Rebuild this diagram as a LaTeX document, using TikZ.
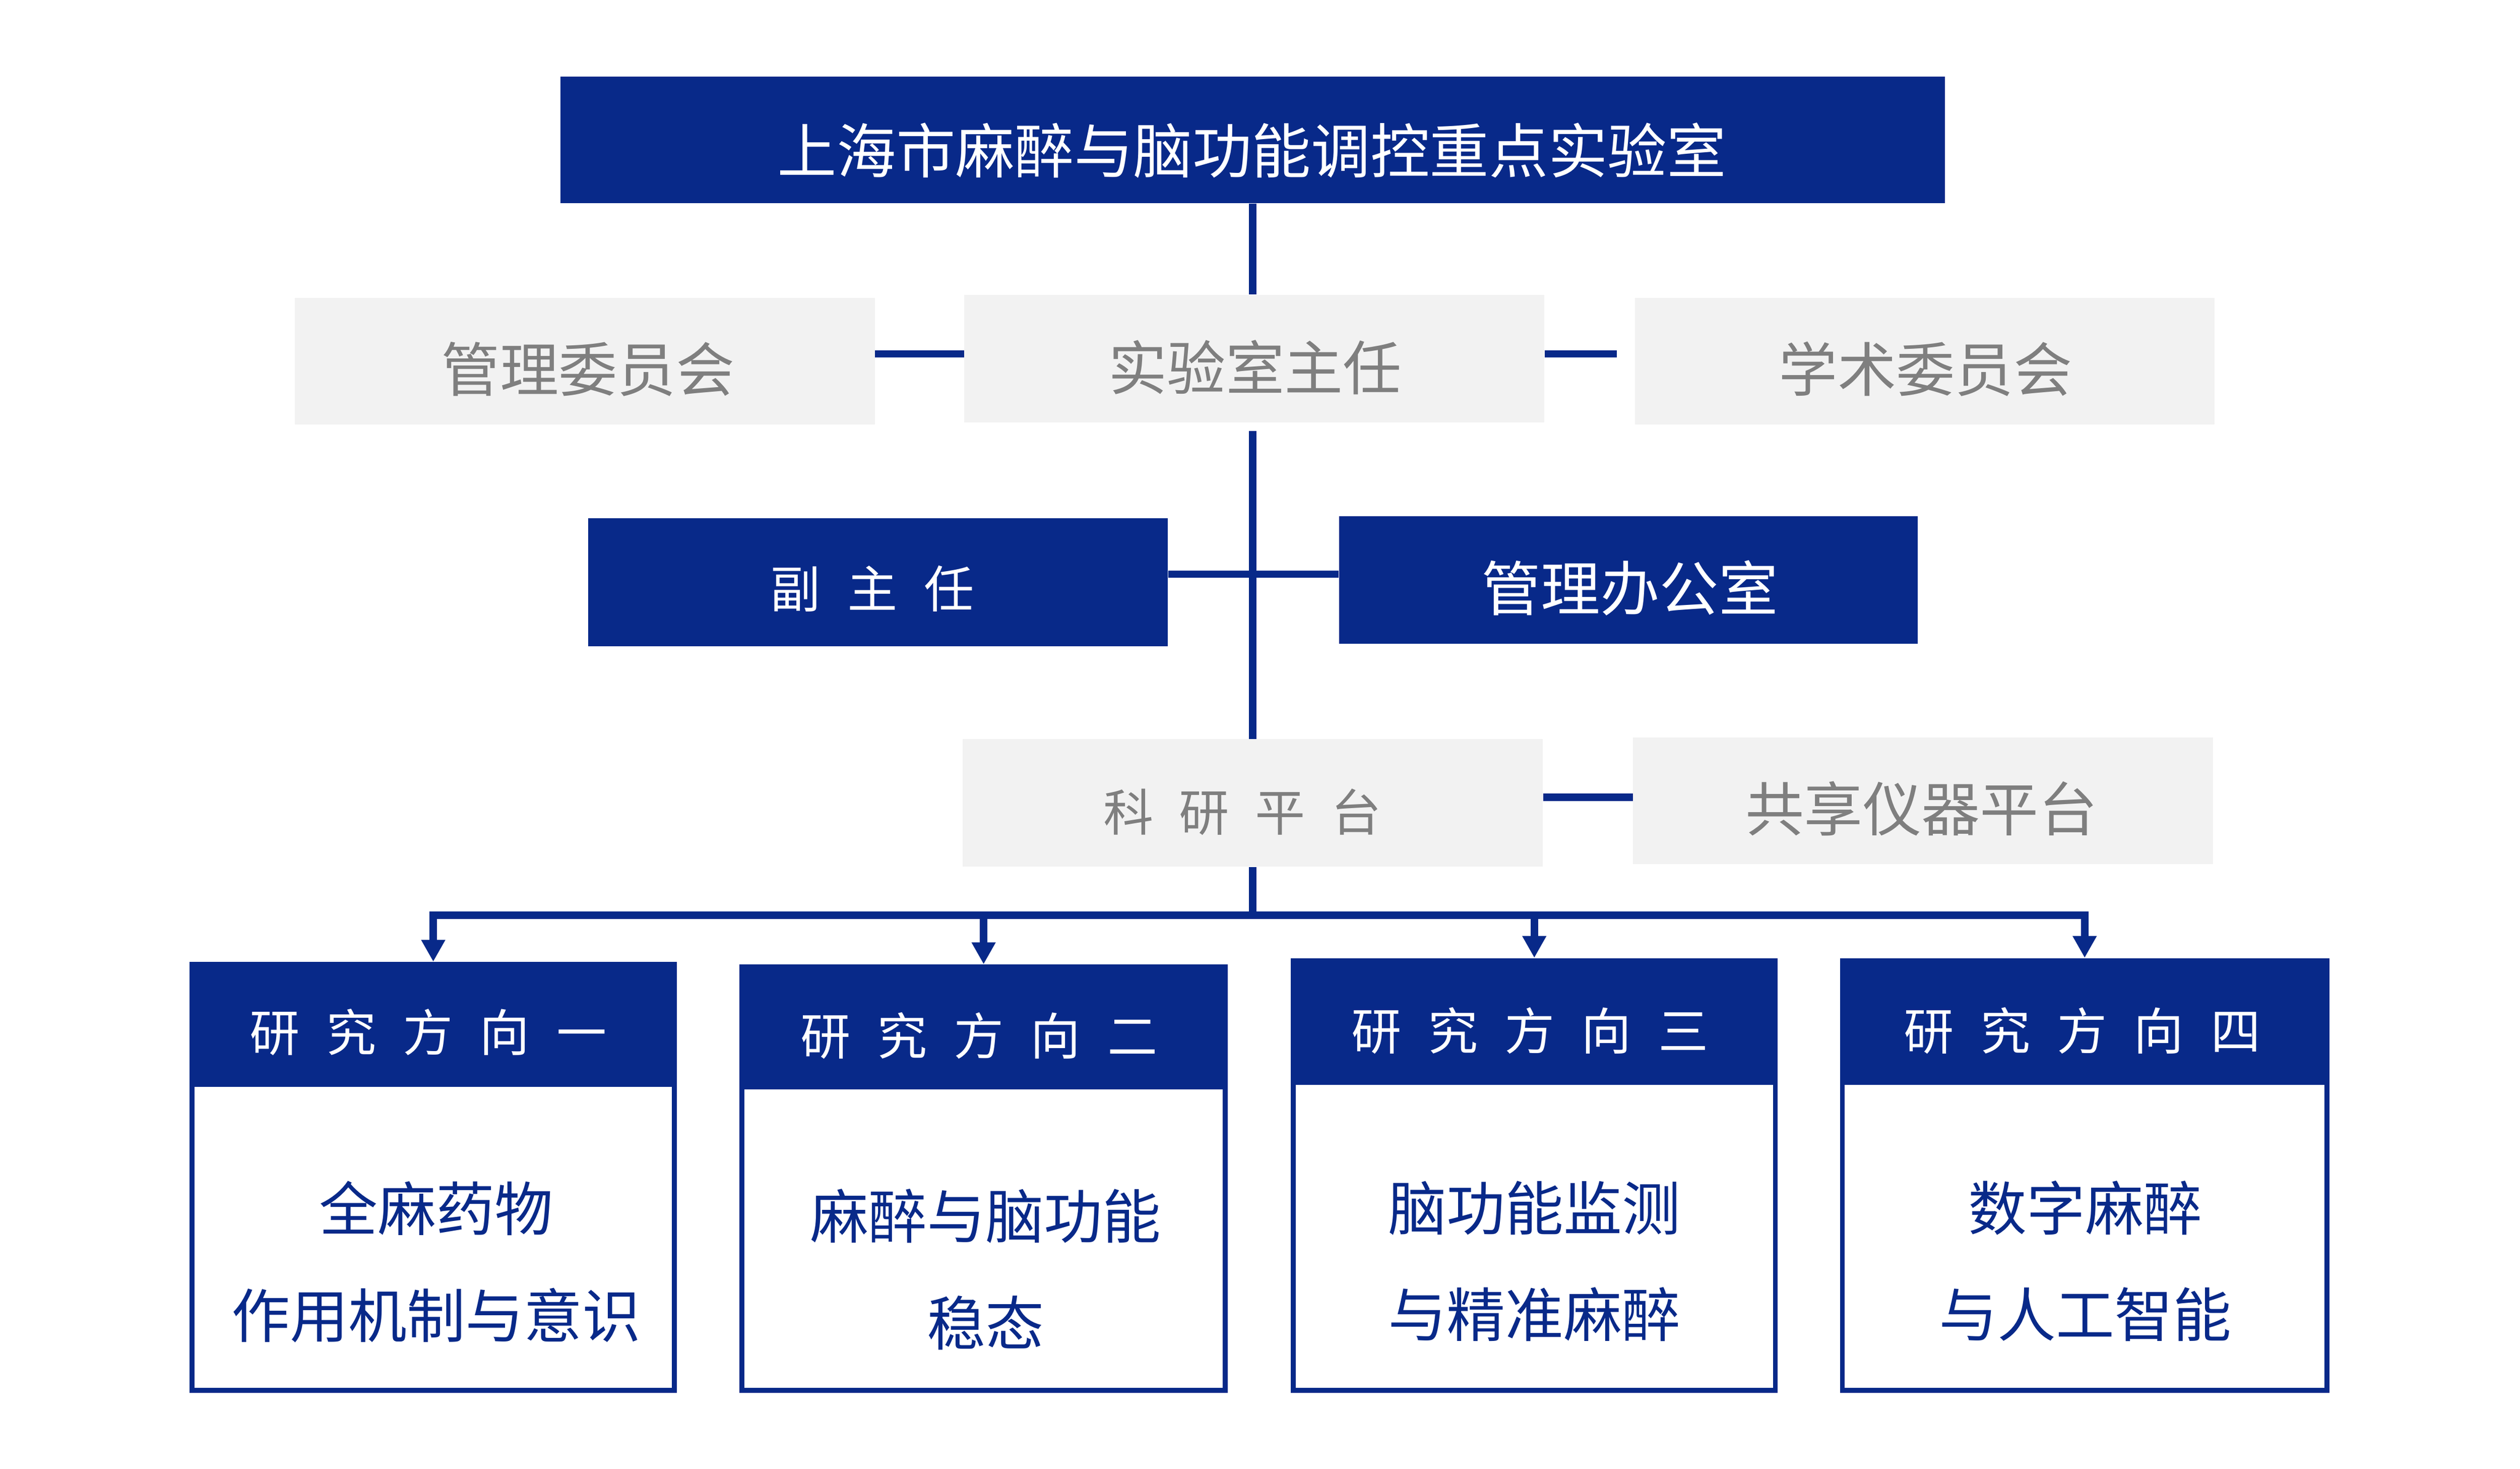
\documentclass[tikz,border=0pt]{standalone}
\usepackage{fontspec}
\newfontfamily\cjk{Noto Sans CJK SC}
\usetikzlibrary{arrows.meta}
\definecolor{navy}{RGB}{8,41,137}
\definecolor{boxgray}{RGB}{242,242,242}
\definecolor{txtgray}{RGB}{127,127,127}
\newcommand\wideA{\spaceskip=16.5pt\relax}
\newcommand\wideB{\spaceskip=16pt\relax}
\tikzset{
  darkbox/.style={fill=navy, draw=none, inner sep=0pt, minimum height=79pt},
  graybox/.style={fill=boxgray, draw=none, inner sep=0pt, minimum width=359pt, minimum height=79pt},
  whitetxt/.style={inner sep=0pt, text=white, font=\cjk\fontsize{36.7}{40}\selectfont},
  greytxt/.style={inner sep=0pt, text=txtgray, font=\cjk\fontsize{36.3}{40}\selectfont},
  spacedwhite/.style={inner sep=0pt, text=white, font=\cjk\fontsize{31}{36}\selectfont},
  spacedgrey/.style={inner sep=0pt, text=txtgray, font=\cjk\fontsize{31}{36}\selectfont},
  bodybox/.style={draw=navy, line width=3pt, fill=white, inner sep=0pt},
  bodytxt/.style={inner sep=0pt, text=navy, align=center, font=\cjk\fontsize{36.2}{66}\selectfont},
  conn/.style={draw=navy, line width=4.6pt},
  arr/.style={conn, -{Triangle[width=14pt,length=13.5pt]}},
}
\begin{document}
\begin{tikzpicture}[x=1pt,y=-1pt]
\useasboundingbox (0,0) rectangle (1560,909);
% top
\node[darkbox, minimum width=857pt, minimum height=78.3pt] (top) at (775.5,86.7) {};
\node[whitetxt] (topT) at (775,93) {上海市麻醉与脑功能调控重点实验室};
% second row
\node[graybox, minimum height=78.2pt] (glw) at (362,223.5) {};
\node[greytxt] (glwT) at (364,228.5) {管理委员会};
\node[graybox] (zr) at (776.5,222) {};
\node[greytxt] (zrT) at (777,227.5) {实验室主任};
\node[graybox, minimum height=78.2pt] (xs) at (1191.5,223.5) {};
\node[greytxt] (xsT) at (1192,228.5) {学术委员会};
% third row
\node[darkbox, minimum width=359pt, minimum height=79.4pt] (fzr) at (543.5,360.3) {};
\node[spacedwhite] (fzrT) at (540,364.5) {\wideA 副 主 任};
\node[darkbox, minimum width=358pt, minimum height=78.8pt] (bgs) at (1008,358.9) {};
\node[whitetxt] (bgsT) at (1009,364) {管理办公室};
% fourth row
\node[graybox, minimum height=78.8pt] (ksp) at (775.5,496.9) {};
\node[spacedgrey] (kspT) at (769,502.5) {\wideB 科 研 平 台};
\node[graybox, minimum height=78.3pt] (gx) at (1190.5,495.5) {};
\node[greytxt] (gxT) at (1189.5,500.5) {共享仪器平台};
% bottom boxes
\node[bodybox, minimum width=298.6pt, minimum height=263.6pt] (b1) at (268.2,728.7) {};
\node[darkbox, minimum width=301.6pt, minimum height=77.2pt] (h1) at (268.2,634) {};
\node[spacedwhite] (h1T) at (265,639) {\wideA 研 究 方 向 一};
\node[bodytxt] (b1T) at (270,781) {全麻药物\\作用机制与意识};

\node[bodybox, minimum width=299.3pt, minimum height=262pt] (b2) at (608.9,729.5) {};
\node[darkbox, minimum width=302.3pt, minimum height=77.3pt] (h2) at (608.9,635.6) {};
\node[spacedwhite] (h2T) at (606,641) {\wideA 研 究 方 向 二};
\node[bodytxt] (b2T) at (610,785.6) {麻醉与脑功能\\稳态};

\node[bodybox, minimum width=298.5pt, minimum height=266pt] (b3) at (949.8,727.5) {};
\node[darkbox, minimum width=301.5pt, minimum height=78.4pt] (h3) at (949.8,632.2) {};
\node[spacedwhite] (h3T) at (947,638) {\wideA 研 究 方 向 三};
\node[bodytxt] (b3T) at (950,780.5) {脑功能监测\\与精准麻醉};

\node[bodybox, minimum width=300pt, minimum height=266pt] (b4) at (1290.5,727.5) {};
\node[darkbox, minimum width=303pt, minimum height=78.4pt] (h4) at (1290.5,632.2) {};
\node[spacedwhite] (h4T) at (1289,638) {\wideA 研 究 方 向 四};
\node[bodytxt] (b4T) at (1291,780.5) {数字麻醉\\与人工智能};

% connectors
\draw[conn] (top.south) -- (top.south |- zr.north);
\draw[conn] (glw.east |- 0,219) -- (zr.west |- 0,219);
\draw[conn] (zr.east |- 0,219) -- (1001,219);
\draw[conn, shorten <=5pt] (ksp.north |- zr.south) -- (ksp.north);
\draw[conn] (fzr.east |- 0,355.4) -- (bgs.west |- 0,355.4);
\draw[conn] (ksp.east |- 0,493.4) -- (gx.west |- 0,493.4);
\coordinate (bus) at (775.5,566.5);
\draw[conn] (ksp.south) -- (bus);
\draw[arr] (bus) -| (h1.north);
\draw[arr] (bus) -| (h2.north);
\draw[arr] (bus) -| (h3.north);
\draw[arr] (bus) -| (h4.north);
\end{tikzpicture}
\end{document}
